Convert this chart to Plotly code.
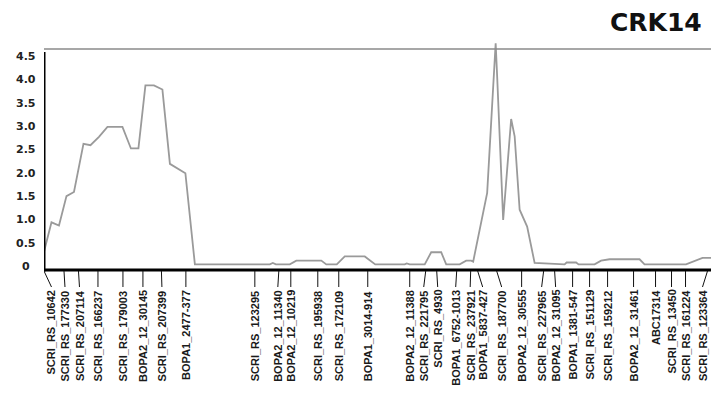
import plotly.graph_objects as go

# ---------------- data ----------------
title_text = "CRK14"

# curve: position along linkage group (cM) and LOD score
curve_pos = [0.0, 1.5, 3.0, 4.5, 6.0, 7.9, 9.3, 11.0, 12.7, 15.7, 17.4, 18.9, 20.3, 22.0, 23.7,
             25.2, 28.3, 30.2, 45.2, 45.8, 46.4, 49.2, 50.5, 55.5, 56.5, 58.6, 60.2, 64.2, 66.3,
             72.2, 72.6, 73.2, 76.2, 77.5, 79.5, 80.5, 83.2, 84.5, 85.5, 85.9, 88.7, 90.1, 90.4,
             90.7, 91.9, 93.5, 94.2, 95.2, 96.7, 98.2, 104.2, 104.6, 106.5, 107.0, 110.2, 111.5,
             113.2, 119.2, 120.2, 128.5, 130.5, 131.8, 133.5]
curve_lod = [0.32, 0.95, 0.88, 1.51, 1.60, 2.63, 2.60, 2.78, 2.99, 2.99, 2.53, 2.53, 3.88, 3.88, 3.79,
             2.20, 2.00, 0.05, 0.05, 0.08, 0.05, 0.05, 0.13, 0.13, 0.05, 0.05, 0.22, 0.22, 0.05,
             0.05, 0.07, 0.05, 0.05, 0.31, 0.31, 0.05, 0.05, 0.13, 0.13, 0.11, 1.58, 4.07, 4.78,
             4.07, 1.00, 3.16, 2.79, 1.22, 0.86, 0.08, 0.05, 0.09, 0.09, 0.05, 0.05, 0.13,
             0.16, 0.16, 0.05, 0.05, 0.13, 0.19, 0.19]

marker_names = ["SCRI_RS_10642", "SCRI_RS_177330", "SCRI_RS_207114", "SCRI_RS_166237",
                "SCRI_RS_179003", "BOPA2_12_30145", "SCRI_RS_207399", "BOPA1_2477-377",
                "SCRI_RS_123295", "BOPA2_12_11340", "BOPA2_12_10219", "SCRI_RS_195938",
                "SCRI_RS_172109", "BOPA1_3014-914", "BOPA2_12_11388", "SCRI_RS_221795",
                "SCRI_RS_4930", "BOPA1_6752-1013", "SCRI_RS_237921", "BOPA1_5837-427",
                "SCRI_RS_187700", "BOPA2_12_30555", "SCRI_RS_227965", "BOPA2_12_31095",
                "BOPA1_1381-547", "SCRI_RS_151129", "SCRI_RS_159212", "BOPA2_12_31461",
                "ABC17314", "SCRI_RS_13450", "SCRI_RS_161224", "SCRI_RS_123364"]
# marker position on the axis (cM)
marker_pos = [0.0, 4.0, 6.9, 10.8, 15.8, 19.8, 23.5, 28.4, 42.2, 47.0, 49.4, 54.8, 59.0, 64.8,
              73.2, 76.4, 78.6, 82.6, 85.4, 86.8, 90.6, 95.6, 100.0, 102.2, 105.8, 109.2,
              112.8, 118.0, 122.4, 125.6, 128.4, 132.8]
# label position (cM), spread apart to avoid overlap
label_pos = [1.5, 4.2, 7.1, 10.8, 15.8, 19.8, 23.6, 28.4, 42.2, 46.8, 49.4, 54.8, 59.0, 64.8,
             73.2, 76.0, 78.8, 82.4, 85.3, 87.8, 91.6, 95.6, 99.6, 102.4, 105.8, 109.2,
             112.8, 118.0, 122.4, 125.6, 128.4, 131.8]

y_tick_vals = [0, 0.5, 1.0, 1.5, 2.0, 2.5, 3.0, 3.5, 4.0, 4.5]
y_tick_text = ["0", "0.5", "1.0", "1.5", "2.0", "2.5", "3.0", "3.5", "4.0", "4.5"]

# ---------------- layout helpers ----------------
W, H = 719, 393
M_L, M_R, M_T, M_B = 44, 8, 40, 123
X_RANGE = [0, 133.5]
Y_RANGE = [-0.07, 4.85]
TOP_LINE = 4.66
plot_w = W - M_L - M_R
plot_h = H - M_T - M_B


def py(p):  # pixel row -> paper y
    return (H - M_B - p) / plot_h


def px(p):  # pixel column -> paper x
    return (p - M_L) / plot_w


fig = go.Figure()
fig.add_trace(go.Scatter(x=curve_pos, y=curve_lod, mode="lines",
                         line=dict(color="#9a9a9a", width=1.8), hoverinfo="skip",
                         showlegend=False))

shapes = []
# top grey line
shapes.append(dict(type="line", xref="x", yref="y", x0=X_RANGE[0], x1=X_RANGE[1],
                   y0=TOP_LINE, y1=TOP_LINE, line=dict(color="#8a8a8a", width=1.5)))
# left axis
shapes.append(dict(type="line", xref="x", yref="paper", x0=0, x1=0, y0=py(271.5), y1=py(52),
                   line=dict(color="#000000", width=3)))
# bottom axis
shapes.append(dict(type="line", xref="x", yref="paper", x0=0, x1=X_RANGE[1], y0=py(270),
                   y1=py(270), line=dict(color="#000000", width=3)))
# marker ticks
for mp, lp in zip(marker_pos, label_pos):
    shapes.append(dict(type="line", xref="x", yref="paper", x0=mp, x1=lp, y0=py(271),
                       y1=py(287), line=dict(color="#111111", width=1)))

LABEL_FONT = "Liberation Sans, Arial, sans-serif"
NUM_FONT = "DejaVu Sans, Verdana, sans-serif"

annotations = []
for name, lp in zip(marker_names, label_pos):
    annotations.append(dict(x=lp, xref="x", y=py(289), yref="paper", text=name,
                            showarrow=False, textangle=-90, xanchor="center", yanchor="top",
                            borderpad=0,
                            font=dict(family=LABEL_FONT, size=11,
                                      color="#1a1a1a", weight="bold")))
for v, t in zip(y_tick_vals, y_tick_text):
    annotations.append(dict(x=px(26), xref="paper", y=v, yref="y", text=t, showarrow=False,
                            xanchor="center", yanchor="middle",
                            font=dict(family=NUM_FONT, size=11,
                                      color="#222222", weight="bold")))
annotations.append(dict(x=px(656), xref="paper", y=py(23), yref="paper", text=title_text,
                        showarrow=False, xanchor="center", yanchor="middle",
                        font=dict(family=NUM_FONT, size=25,
                                  color="#111111", weight="bold")))

fig.update_layout(
    width=W, height=H,
    margin=dict(l=M_L, r=M_R, t=M_T, b=M_B, pad=0),
    paper_bgcolor="white", plot_bgcolor="white",
    xaxis=dict(range=X_RANGE, visible=False, showgrid=False, zeroline=False),
    yaxis=dict(range=Y_RANGE, visible=False, showgrid=False, zeroline=False),
    shapes=shapes, annotations=annotations, showlegend=False,
)

fig.write_html("out.html")
